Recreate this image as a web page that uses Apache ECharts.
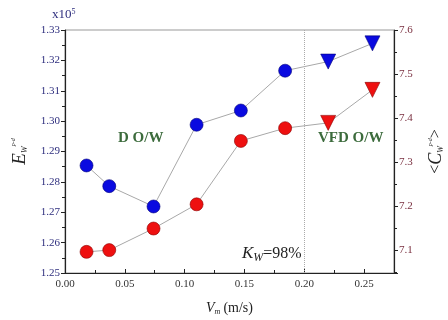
<!DOCTYPE html>
<html>
<head>
<meta charset="utf-8">
<script src="https://cdn.jsdelivr.net/npm/echarts@6/dist/echarts.min.js"></script>
<style>
  html, body { margin: 0; padding: 0; background: #fff; }
  #chart { width: 448px; height: 320px; }
</style>
</head>
<body>
<div id="chart"></div>
<script>
// flow velocity Vm (m/s)
var vm = [0.018, 0.037, 0.074, 0.110, 0.147, 0.184, 0.220, 0.257];
// E_W^{p-d}, x10^5 (left axis)
var energy = [1.2854, 1.2786, 1.2719, 1.2988, 1.3035, 1.3166, 1.3196, 1.3256];
// <C_W^{p-d}> (right axis)
var conc = [7.096, 7.100, 7.149, 7.204, 7.348, 7.377, 7.389, 7.464];
// points from this index on are VFD O/W (triangles)
var vfdFrom = 6;
var regimeLimit = 0.203;

var serif = 'Liberation Serif';

function points(ys) {
    return vm.map(function (x, i) {
        var p = { value: [x, ys[i]] };
        if (i >= vfdFrom) {
            p.symbol = 'triangle';
            p.symbolRotate = 180;
            p.symbolSize = 15;
        }
        return p;
    });
}

function isStep(v, step) {
    var r = v / step;
    return Math.abs(r - Math.round(r)) < 1e-6;
}

var chart = echarts.init(document.getElementById('chart'));

chart.setOption({
    animation: false,
    textStyle: { fontFamily: serif },
    grid: {
        left: 65, right: 54, top: 30, bottom: 47,
        outerBoundsMode: 'none',
        show: true, borderColor: '#999', borderWidth: 1
    },
    xAxis: {
        type: 'value',
        min: 0, max: 0.275,
        interval: 0.05,
        name: '{v|V}{m|m} {u|(m/s)}',
        nameLocation: 'middle',
        nameGap: 27,
        nameTextStyle: {
            rich: {
                v: { fontFamily: serif, fontStyle: 'italic', fontSize: 14, color: '#222' },
                m: { fontFamily: serif, fontStyle: 'italic', fontSize: 8, color: '#222', verticalAlign: 'bottom', padding: [8, 0, 0, 0] },
                u: { fontFamily: serif, fontSize: 14, color: '#222' }
            }
        },
        axisLine: { lineStyle: { color: '#222', width: 1.2 } },
        axisTick: { inside: true, length: 4, lineStyle: { color: '#222' } },
        minorTick: { show: true, splitNumber: 2, length: 3, lineStyle: { color: '#222' } },
        axisLabel: {
            color: '#333', fontSize: 11, fontFamily: serif, margin: 6,
            formatter: function (v) { return isStep(v, 0.05) ? v.toFixed(2) : ''; }
        },
        splitLine: { show: false }
    },
    yAxis: [{
        type: 'value',
        min: 1.25, max: 1.33,
        interval: 0.01,
        name: '{e|E}{w|W}{p|p-d}',
        nameLocation: 'middle',
        nameRotate: 90,
        nameGap: 36,
        nameTextStyle: {
            rich: {
                e: { fontFamily: serif, fontStyle: 'italic', fontSize: 19, color: '#222' },
                w: { fontFamily: serif, fontStyle: 'italic', fontSize: 8, color: '#222', verticalAlign: 'bottom', padding: [10, 0, 0, 0] },
                p: { fontFamily: serif, fontStyle: 'italic', fontSize: 6, color: '#222', verticalAlign: 'top', padding: [0, 0, 10, 0] }
            }
        },
        axisLine: { lineStyle: { color: '#222', width: 1.2 } },
        axisTick: { length: 4, lineStyle: { color: '#222' } },
        minorTick: { show: true, splitNumber: 2, length: 3, lineStyle: { color: '#222' } },
        axisLabel: {
            color: '#2e2e7e', fontSize: 11, fontFamily: serif, margin: 5,
            formatter: function (v) { return v.toFixed(2); }
        },
        splitLine: { show: false }
    }, {
        type: 'value',
        min: 7.048, max: 7.6,
        splitNumber: 5,
        position: 'right',
        name: '{a|<}{c|C}{w|W}{p|p-d}{a|>}',
        nameLocation: 'middle',
        nameRotate: 90,
        nameGap: 33,
        nameTextStyle: {
            rich: {
                a: { fontFamily: serif, fontSize: 16, color: '#222' },
                c: { fontFamily: serif, fontStyle: 'italic', fontSize: 18, color: '#222' },
                w: { fontFamily: serif, fontStyle: 'italic', fontSize: 8, color: '#222', verticalAlign: 'bottom', padding: [10, 0, 0, 0] },
                p: { fontFamily: serif, fontStyle: 'italic', fontSize: 6, color: '#222', verticalAlign: 'top', padding: [0, 0, 10, 0] }
            }
        },
        axisLine: { show: true, lineStyle: { color: '#222', width: 1.2 } },
        axisTick: { length: 4, lineStyle: { color: '#222' } },
        minorTick: { show: true, splitNumber: 2, length: 3, lineStyle: { color: '#222' } },
        axisLabel: {
            color: '#7a3040', fontSize: 11, fontFamily: serif, margin: 5,
            formatter: function (v) { return isStep(v, 0.1) ? v.toFixed(1) : ''; }
        },
        splitLine: { show: false }
    }],
    series: [{
        name: 'E',
        type: 'line',
        yAxisIndex: 0,
        data: points(energy),
        symbol: 'circle',
        symbolSize: 13,
        lineStyle: { color: '#a8a8a8', width: 1 },
        itemStyle: { color: '#0a0ae0', borderColor: '#00007a', borderWidth: 0.6 },
        markLine: {
            silent: true,
            symbol: 'none',
            label: { show: false },
            lineStyle: { color: '#aaa', type: 'dotted', width: 1 },
            data: [{ xAxis: regimeLimit }]
        },
        z: 3
    }, {
        name: 'C',
        type: 'line',
        yAxisIndex: 1,
        data: points(conc),
        symbol: 'circle',
        symbolSize: 13,
        lineStyle: { color: '#a8a8a8', width: 1 },
        itemStyle: { color: '#ee1010', borderColor: '#8a0000', borderWidth: 0.6 },
        z: 3
    }],
    graphic: [{
        type: 'text', left: 52, top: 8,
        style: {
            text: '{a|x10}{b|5}',
            rich: {
                a: { fontFamily: serif, fontSize: 13, fill: '#2e2e7e' },
                b: { fontFamily: serif, fontSize: 8, fill: '#2e2e7e', verticalAlign: 'top', padding: [0, 0, 6, 0] }
            }
        }
    }, {
        type: 'text', left: 118, top: 131,
        style: { text: 'D O/W', fontFamily: serif, fontSize: 15, fontWeight: 'bold', fill: '#3c6b3c' }
    }, {
        type: 'text', left: 318, top: 131,
        style: { text: 'VFD O/W', fontFamily: serif, fontSize: 15, fontWeight: 'bold', fill: '#3c6b3c' }
    }, {
        type: 'text', left: 242, top: 245,
        style: {
            text: '{k|K}{w|W}{t|=98%}',
            rich: {
                k: { fontFamily: serif, fontStyle: 'italic', fontSize: 17, fill: '#222' },
                w: { fontFamily: serif, fontStyle: 'italic', fontSize: 12, fill: '#222', verticalAlign: 'bottom', padding: [8, 0, 0, 0] },
                t: { fontFamily: serif, fontSize: 16, fill: '#222' }
            }
        }
    }]
});
</script>
</body>
</html>
